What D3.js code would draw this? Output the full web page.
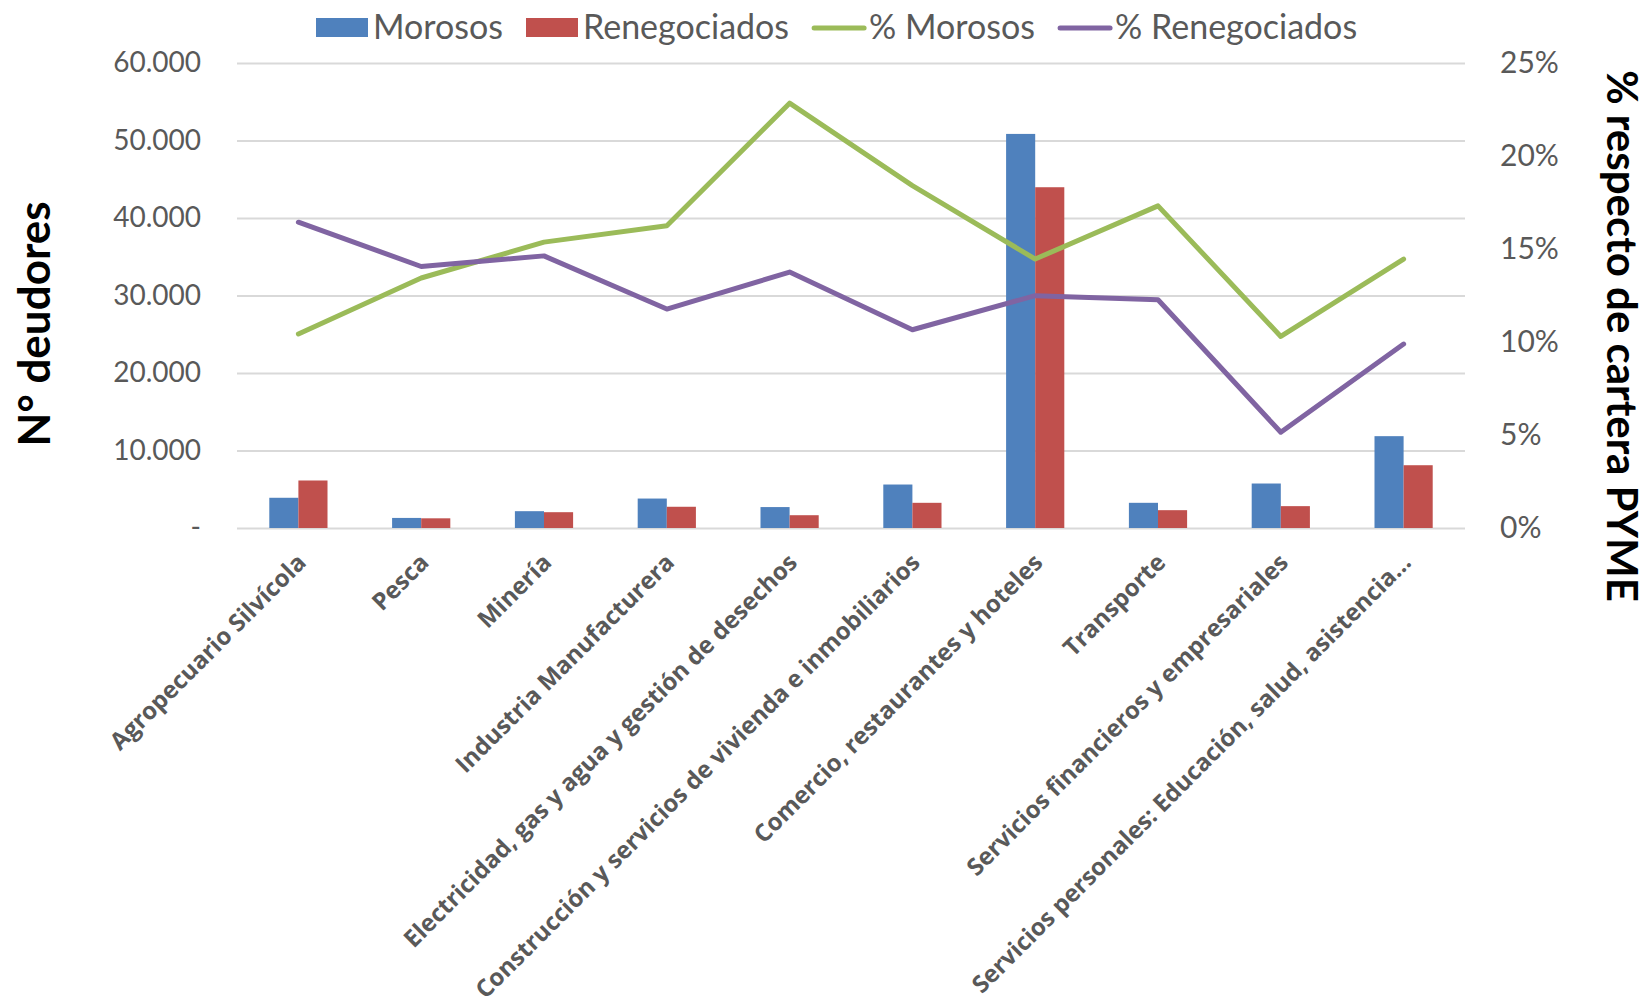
<!DOCTYPE html>
<html><head><meta charset="utf-8">
<script src="https://cdn.jsdelivr.net/npm/d3@7/dist/d3.min.js"></script>
<style>body{margin:0;background:#fff}svg{display:block}</style>
</head><body>
<svg id="c" width="1649" height="1004"></svg>
<script>
const categories = ["Agropecuario Silvícola","Pesca","Minería","Industria Manufacturera","Electricidad, gas y agua y gestión de desechos","Construcción y servicios de vivienda e inmobiliarios","Comercio, restaurantes y hoteles","Transporte","Servicios financieros y empresariales","Servicios personales: Educación, salud, asistencia…"];
const morosos = [3900, 1300, 2170, 3800, 2700, 5610, 50850, 3250, 5740, 11850];
const renegociados = [6130, 1250, 2040, 2740, 1650, 3250, 43970, 2300, 2820, 8100];
const pctMorosos = [10.43, 13.44, 15.37, 16.25, 22.84, 18.41, 14.46, 17.32, 10.30, 14.46];
const pctRenegociados = [16.44, 14.06, 14.63, 11.77, 13.76, 10.66, 12.49, 12.27, 5.15, 9.89];
const leftTicks = [0, 10000, 20000, 30000, 40000, 50000, 60000];
const rightTicks = [0, 5, 10, 15, 20, 25];
const seriesNames = ["Morosos", "Renegociados", "% Morosos", "% Renegociados"];

const colors = {blue:"#4F81BD", red:"#C0504D", green:"#9BBB59", purple:"#8064A2", grid:"#D9D9D9", text:"#595959"};
const svg = d3.select("#c");
const L = 237, R = 1465, T = 63, B = 528;

const x = d3.scaleBand().domain(categories).range([L, R]).padding(0);
const y = d3.scaleLinear().domain([0, 60000]).range([B, T]);
const y2 = d3.scaleLinear().domain([0, 25]).range([B, T]);

// gridlines
const yAxisGrid = d3.axisLeft(y).tickValues(leftTicks).tickSize(-(R - L)).tickFormat("");
svg.append("g").attr("transform", `translate(${L},0)`).call(yAxisGrid)
  .call(g => g.select(".domain").remove())
  .call(g => g.selectAll("line").attr("stroke", colors.grid).attr("stroke-width", 2));

// left tick labels
const fmtLeft = v => v === 0 ? "-" : d3.format(",")(v).replace(/,/g, ".");
const yAxisL = d3.axisLeft(y).tickValues(leftTicks).tickSize(0).tickPadding(36).tickFormat(fmtLeft);
svg.append("g").attr("transform", `translate(${L},0)`).call(yAxisL)
  .call(g => g.select(".domain").remove())
  .call(g => g.selectAll("text").attr("fill", colors.text).style("font-family", "Lato").style("font-size", "28px"));

const yAxisR = d3.axisRight(y2).tickValues(rightTicks).tickSize(0).tickPadding(35).tickFormat(d => d + "%");
svg.append("g").attr("transform", `translate(${R},0)`).call(yAxisR)
  .call(g => g.select(".domain").remove())
  .call(g => g.selectAll("text").attr("fill", colors.text).style("font-family", "Lato").style("font-size", "30px"));

// bars
const bw = x.bandwidth() * 0.237;
const cx = d => x(d) + x.bandwidth() / 2;
svg.append("g").selectAll("rect").data(categories).join("rect")
  .attr("x", d => cx(d) - bw).attr("width", bw)
  .attr("y", (d, i) => y(morosos[i])).attr("height", (d, i) => B - y(morosos[i]))
  .attr("fill", colors.blue);
svg.append("g").selectAll("rect").data(categories).join("rect")
  .attr("x", d => cx(d)).attr("width", bw)
  .attr("y", (d, i) => y(renegociados[i])).attr("height", (d, i) => B - y(renegociados[i]))
  .attr("fill", colors.red);

// lines
const line = arr => d3.line().x((d, i) => cx(categories[i])).y(d => y2(d))(arr);
svg.append("path").attr("d", line(pctMorosos)).attr("fill", "none").attr("stroke", colors.green)
  .attr("stroke-width", 5).attr("stroke-linecap", "round").attr("stroke-linejoin", "round");
svg.append("path").attr("d", line(pctRenegociados)).attr("fill", "none").attr("stroke", colors.purple)
  .attr("stroke-width", 5).attr("stroke-linecap", "round").attr("stroke-linejoin", "round");

// category labels
const xAxis = d3.axisBottom(x).tickSize(0).tickPadding(0);
svg.append("g").attr("transform", `translate(0,${B})`).call(xAxis)
  .call(g => g.select(".domain").remove())
  .call(g => g.selectAll("text")
    .attr("fill", colors.text).style("font-family", "'Open Sans', sans-serif").style("font-size", "24px").style("font-weight", "bold")
    .attr("text-anchor", "end").attr("x", 0).attr("y", 0).attr("dy", 0)
    .attr("transform", "translate(9,36) rotate(-45)"));

// axis titles
svg.append("text").text("N° deudores")
  .attr("transform", `translate(50,324) rotate(-90)`).attr("text-anchor", "middle")
  .style("font-family", "Lato").style("font-weight", "bold").style("font-size", "44px").attr("fill", "#000");
svg.append("text").text("% respecto de cartera PYME")
  .attr("transform", `translate(1607,336) rotate(90)`).attr("text-anchor", "middle")
  .style("font-family", "Lato").style("font-weight", "bold").style("font-size", "42px").attr("fill", "#000");

// legend
const lg = svg.append("g").attr("transform", "translate(316,27)");
let xpos = 0;
seriesNames.forEach((name, i) => {
  const g = lg.append("g").attr("transform", `translate(${xpos},0)`);
  if (i < 2) {
    g.append("rect").attr("x", 0).attr("y", -9).attr("width", 52).attr("height", 19).attr("fill", i === 0 ? colors.blue : colors.red);
  } else {
    g.append("line").attr("x1", 2).attr("x2", 52).attr("y1", 1).attr("y2", 1)
      .attr("stroke", i === 2 ? colors.green : colors.purple).attr("stroke-width", 5).attr("stroke-linecap", "round");
  }
  const t = g.append("text").text(name).attr("x", 57).attr("y", 0).attr("dy", "0.36em")
    .style("font-family", "Lato").style("font-size", "34px").attr("fill", colors.text);
  xpos += 57 + t.node().getComputedTextLength() + 23;
});
</script>
</body></html>
